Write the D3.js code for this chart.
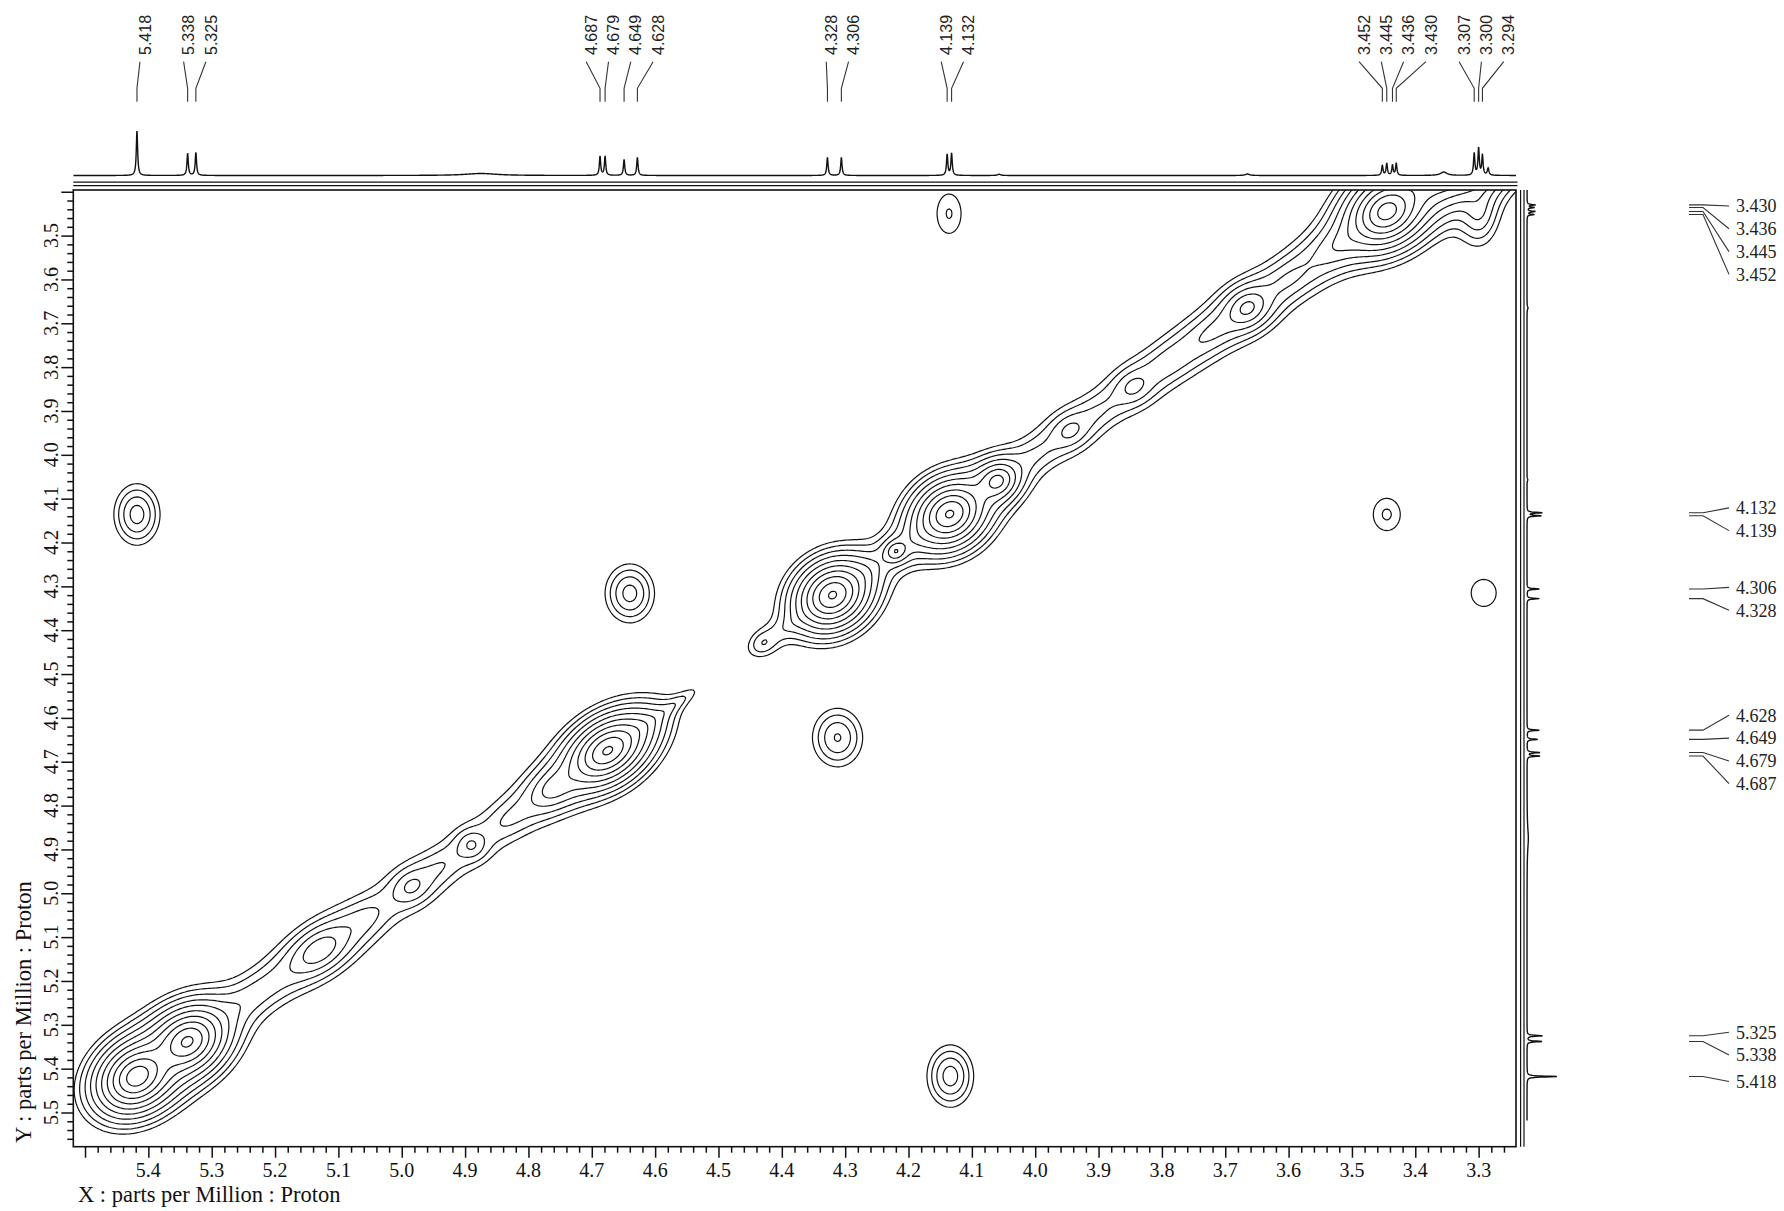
<!DOCTYPE html>
<html><head><meta charset="utf-8">
<script src="https://cdn.jsdelivr.net/npm/d3@7"></script>
<style>body{margin:0;background:#fff}svg{display:block}</style>
</head><body>
<svg id="chart" width="1784" height="1211"></svg>
<script>
// ---------------- DATA ----------------
const xDomain = [5.5185, 3.241];          // F2 (ppm) left -> right
const yDomain = [3.396, 5.578];           // F1 (ppm) top -> bottom
const xTickLabels = ["5.4","5.3","5.2","5.1","5.0","4.9","4.8","4.7","4.6","4.5","4.4","4.3","4.2","4.1","4.0","3.9","3.8","3.7","3.6","3.5","3.4","3.3"];
const yTickLabels = ["3.5","3.6","3.7","3.8","3.9","4.0","4.1","4.2","4.3","4.4","4.5","4.6","4.7","4.8","4.9","5.0","5.1","5.2","5.3","5.4","5.5"];
const xTitle = "X : parts per Million : Proton";
const yTitle = "Y : parts per Million : Proton";

// peak-pick labels
const topPeakLabels  = [5.418,5.338,5.325,4.687,4.679,4.649,4.628,4.328,4.306,4.139,4.132,3.452,3.445,3.436,3.430,3.307,3.300,3.294];
const sidePeakLabels = [3.430,3.436,3.445,3.452,4.132,4.139,4.306,4.328,4.628,4.649,4.679,4.687,5.325,5.338,5.418];

// 1D projection lines (ppm, height, line width ppm)
const specShift  = [5.418,5.338,5.325,4.687,4.679,4.649,4.628,4.328,4.306,4.139,4.132,3.452,3.445,3.436,3.430,3.307,3.300,3.294,3.285,4.875,3.355,3.665,4.057];
const specHeight = [45,   22,   23,   19,   19,   16,   18,   18,   18,   21,   22,   10,   12,   10,   12,   22,   27,   20,   7,    2,    3.5,  1.5,  1.2];
const specWidth  = [0.0025,0.0025,0.0025,0.0025,0.0025,0.0025,0.0025,0.0025,0.0025,0.0025,0.0025,0.0025,0.0025,0.0025,0.0025,0.0025,0.0025,0.0025,0.003,0.06,0.012,0.008,0.006];

// diagonal peaks: shift (ppm), intensity, width along diagonal, width across diagonal (ppm)
const diagShift  = [5.418,5.338,5.23, 5.13, 5.06, 4.985,4.94, 4.89, 4.83, 4.76, 4.675,4.625,4.575,4.43, 4.39, 4.32, 4.27, 4.22, 4.18, 4.135,4.06, 4.00, 3.945,3.90, 3.845,3.79, 3.72, 3.665,3.60, 3.52, 3.445,3.37, 3.30];
const diagAmp    = [50,   40,   2.6,  6,    2.0,  2.6,  1.8,  2.4,  2.0,  5,    40,   3,    1.4,  1.6,  1.0,  40,   2.0,  6,    2.0,  40,   12,   1.9,  2.5,  1.7,  2.5,  2.3,  2.8,  7,    2.8,  3.5,  45,   6,    45];
const diagAlong  = [0.018,0.018,0.05, 0.022,0.03, 0.015,0.03, 0.01, 0.03, 0.02, 0.02, 0.02, 0.03, 0.012,0.03, 0.017,0.02, 0.008,0.02, 0.017,0.013,0.03, 0.015,0.03, 0.015,0.03, 0.03, 0.015,0.03, 0.03, 0.018,0.03, 0.03];
const diagAcross = [0.014,0.014,0.016,0.013,0.016,0.012,0.016,0.01, 0.016,0.013,0.013,0.012,0.006,0.01, 0.009,0.014,0.013,0.007,0.013,0.014,0.011,0.015,0.012,0.015,0.012,0.015,0.015,0.012,0.015,0.015,0.014,0.015,0.015];

// cross peaks: F2 shift, F1 shift, intensity, F2 width, F1 width (ppm)
const crossX  = [4.136, 5.418, 4.640, 3.445, 3.292, 4.312, 4.134, 3.300, 3.445];
const crossY  = [3.450, 4.136, 4.316, 4.136, 4.315, 4.645, 5.417, 3.445, 3.300];
const crossAmp= [1.55,  4.1,   4.0,   1.6,   1.35,  3.5,   4.2,   3.0,   3.0];
const crossWx = [0.0183,0.0166,0.018, 0.0197,0.0237,0.0196,0.0166,0.016, 0.02];
const crossWy = [0.0434,0.032, 0.031, 0.034, 0.037, 0.033, 0.032, 0.04,  0.03];

const contourBase = 1, contourRatio = 1.5, contourCount = 13;

// ---------------- LAYOUT ----------------
const svg = d3.select("#chart");
const plot = {left: 73.3, right: 1516, top: 190, bottom: 1146.7};
const x = d3.scaleLinear().domain(xDomain).range([plot.left, plot.right]);
const y = d3.scaleLinear().domain(yDomain).range([plot.top, plot.bottom]);
const serif = "'Liberation Serif','Times New Roman',serif";
const sans = "'Liberation Sans',Arial,sans-serif";
const ink = "#111";

svg.append("rect").attr("width",1784).attr("height",1211).attr("fill","#fff");
svg.append("defs").append("clipPath").attr("id","clip").append("rect")
  .attr("x",plot.left).attr("y",plot.top).attr("width",plot.right-plot.left).attr("height",plot.bottom-plot.top);

// ---------------- CONTOUR FIELD ----------------
const g = 2, pad = 24;
const gx0 = plot.left - pad, gy0 = plot.top - pad;
const nx = Math.ceil((plot.right - plot.left + 2*pad)/g) + 1;
const ny = Math.ceil((plot.bottom - plot.top + 2*pad)/g) + 1;
const values = new Float64Array(nx*ny);
const ex = x(1) - x(0), ey = y(1) - y(0);
const K = Math.hypot(ex, ey);
const eu = [ex/K, ey/K], en = [-eu[1], eu[0]];

function addPeak(cx, cy, A, ua, ub, la, lb){
  const rmax = Math.sqrt(Math.pow(1 + Math.log(A/0.005), 2) - 1);
  const R = rmax * Math.max(la, lb);
  const i0 = Math.max(0, Math.floor((cx - R - gx0)/g)), i1 = Math.min(nx-1, Math.ceil((cx + R - gx0)/g));
  const j0 = Math.max(0, Math.floor((cy - R - gy0)/g)), j1 = Math.min(ny-1, Math.ceil((cy + R - gy0)/g));
  for (let j=j0;j<=j1;j++){
    const dy = gy0 + j*g - cy;
    for (let i=i0;i<=i1;i++){
      const dx = gx0 + i*g - cx;
      const a = (dx*ua[0] + dy*ua[1])/la, b = (dx*ub[0] + dy*ub[1])/lb;
      values[j*nx+i] += A*Math.exp(1 - Math.sqrt(1 + a*a + b*b));
    }
  }
}
diagShift.forEach((c,k)=> addPeak(x(c), y(c), diagAmp[k], eu, en, diagAlong[k]*K, diagAcross[k]*K));
crossX.forEach((c,k)=> addPeak(x(c), y(crossY[k]), crossAmp[k], [1,0], [0,1], crossWx[k]*Math.abs(ex), crossWy[k]*Math.abs(ey)));

const levels = d3.range(contourCount).map(k => contourBase*Math.pow(contourRatio, k));
const contours = d3.contours().size([nx, ny]).thresholds(levels)(values);
const cpath = d3.geoPath(d3.geoTransform({point(px, py){ this.stream.point(gx0 + (px-0.5)*g, gy0 + (py-0.5)*g); }}));
svg.append("g").attr("clip-path","url(#clip)")
  .selectAll("path").data(contours).join("path")
  .attr("d", cpath).attr("fill","none").attr("stroke", ink).attr("stroke-width",1.2).attr("stroke-linejoin","round");

// ---------------- FRAME & AXES ----------------
svg.append("rect").attr("x",plot.left).attr("y",plot.top).attr("width",plot.right-plot.left).attr("height",plot.bottom-plot.top)
  .attr("fill","none").attr("stroke",ink).attr("stroke-width",1.6);

const xMajor = d3.range(Math.ceil(xDomain[1]*10), Math.floor(xDomain[0]*10)+1).map(v=>v/10);
const xMinor = d3.range(Math.ceil(xDomain[1]*50), Math.floor(xDomain[0]*50)+1).filter(v=>v%5!==0).map(v=>v/50);
const yMajor = d3.range(Math.ceil(yDomain[0]*10), Math.floor(yDomain[1]*10)+1).map(v=>v/10);
const yMinor = d3.range(Math.ceil(yDomain[0]*50), Math.floor(yDomain[1]*50)+1).filter(v=>v%5!==0).map(v=>v/50);

function styleAxis(sel){ sel.select(".domain").remove(); sel.selectAll("line").attr("stroke",ink).attr("stroke-width",1.5); }
svg.append("g").attr("transform",`translate(0,${plot.bottom})`).call(d3.axisBottom(x).tickValues(xMajor).tickSize(11).tickFormat("")).call(styleAxis);
svg.append("g").attr("transform",`translate(0,${plot.bottom})`).call(d3.axisBottom(x).tickValues(xMinor).tickSize(6).tickFormat("")).call(styleAxis);
svg.append("g").attr("transform",`translate(${plot.left},0)`).call(d3.axisLeft(y).tickValues(yMajor).tickSize(12).tickFormat("")).call(styleAxis);
svg.append("g").attr("transform",`translate(${plot.left},0)`).call(d3.axisLeft(y).tickValues(yMinor).tickSize(6).tickFormat("")).call(styleAxis);

svg.append("g").selectAll("text").data(xTickLabels).join("text")
  .attr("x", d=>x(+d)).attr("y", plot.bottom + 30).attr("text-anchor","middle")
  .attr("font-family",serif).attr("font-size",20).attr("fill",ink).text(d=>d);
svg.append("g").selectAll("text").data(yTickLabels).join("text")
  .attr("transform", d=>`translate(51,${y(+d)}) rotate(-90)`).attr("dy","0.35em").attr("text-anchor","middle")
  .attr("font-family",serif).attr("font-size",20).attr("fill",ink).text(d=>d);

svg.append("text").attr("x",78).attr("y",1202).attr("font-family",serif).attr("font-size",22.5).attr("fill",ink).text(xTitle);
svg.append("text").attr("transform","translate(23,1143) rotate(-90)").attr("dy","0.35em")
  .attr("font-family",serif).attr("font-size",22.5).attr("fill",ink).text(yTitle);

// ---------------- 1D PROJECTIONS ----------------
function intensity(p){
  let s = 0;
  for (let k=0;k<specShift.length;k++){ const h = specWidth[k]/2, d = p - specShift[k]; s += specHeight[k]*h*h/(d*d + h*h); }
  return s;
}
const ppmGrid = d3.range(xDomain[1], xDomain[0], 0.0004);
const specData = ppmGrid.map(p => ({p, v: intensity(p)}));
const topI = d3.scaleLinear().domain([0, 45]).range([175.5, 130.5]);
const sideI = d3.scaleLinear().domain([0, 45]).range([1527, 1557]);

svg.append("path").datum(specData.filter(d=>d.p<=xDomain[0] && d.p>=xDomain[1]))
  .attr("d", d3.line().x(d=>x(d.p)).y(d=>topI(d.v)))
  .attr("fill","none").attr("stroke",ink).attr("stroke-width",1.4);
svg.append("path").datum(specData.filter(d=>d.p>=yDomain[0] && d.p<=yDomain[1]))
  .attr("d", d3.line().x(d=>sideI(d.v)).y(d=>y(d.p)))
  .attr("fill","none").attr("stroke",ink).attr("stroke-width",1.4);

// double separators
[182.2, 185.6].forEach(yy => svg.append("line").attr("x1",plot.left).attr("x2",plot.right+1.5).attr("y1",yy).attr("y2",yy).attr("stroke",ink).attr("stroke-width",1.2));
[1520.6, 1524].forEach(xx => svg.append("line").attr("x1",xx).attr("x2",xx).attr("y1",plot.top).attr("y2",plot.bottom).attr("stroke",ink).attr("stroke-width",1.2));

// ---------------- PEAK LABELS ----------------
function spread(targets, gap, lo, hi){
  const idx = targets.map((t,i)=>i).sort((a,b)=>targets[a]-targets[b]);
  let cl = [];
  function place(c){ const n=c.items.length; let s = c.sum/n - (n-1)*gap/2; s = Math.max(lo, Math.min(hi-(n-1)*gap, s)); return s; }
  idx.forEach(i=>{
    cl.push({items:[i], sum:targets[i]});
    while (cl.length>1){
      const a = cl[cl.length-2], b = cl[cl.length-1];
      if (place(a) + a.items.length*gap > place(b)){ a.items = a.items.concat(b.items); a.sum += b.sum; cl.pop(); } else break;
    }
  });
  const out = new Array(targets.length);
  cl.forEach(c=>{ const s = place(c); c.items.forEach((i,k)=> out[i] = s + k*gap); });
  return out;
}

const topTargets = topPeakLabels.map(v=>x(v));
const topPos = spread(topTargets, 22.3, 60, 1530).map(p=>p+3);
const tl = svg.append("g");
topPeakLabels.forEach((v,i)=>{
  tl.append("path").attr("d", `M${topTargets[i]},101.7 L${topTargets[i]},88.3 L${topPos[i]},61.7`)
    .attr("fill","none").attr("stroke","#333").attr("stroke-width",1.1);
  tl.append("text").attr("transform",`translate(${topPos[i]+5},55) rotate(-90)`).attr("dy","0.35em")
    .attr("font-family",sans).attr("font-size",16).attr("fill","#222").text(v.toFixed(3));
});

const sideTargets = sidePeakLabels.map(v=>y(v));
const sidePos = spread(sideTargets, 22.8, 206, 1200).map((p,i)=> i>3 ? p+5 : p);
const sl = svg.append("g");
sidePeakLabels.forEach((v,i)=>{
  sl.append("path").attr("d", `M1689,${sideTargets[i]} L1703,${sideTargets[i]} L1729,${sidePos[i]}`)
    .attr("fill","none").attr("stroke","#333").attr("stroke-width",1.1);
  sl.append("text").attr("x",1736).attr("y",sidePos[i]).attr("dy","0.35em")
    .attr("font-family",serif).attr("font-size",18).attr("fill","#222").text(v.toFixed(3));
});
</script>
</body></html>
